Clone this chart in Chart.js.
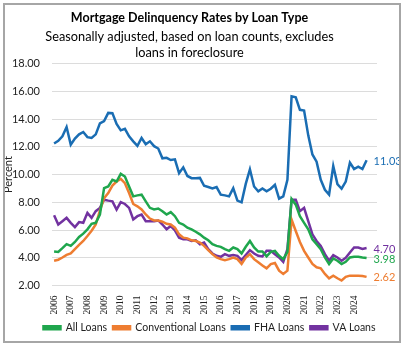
<!DOCTYPE html>
<html>
<head>
<meta charset="utf-8">
<script src="https://cdn.jsdelivr.net/npm/chart.js@4.4.1/dist/chart.umd.min.js"></script>
<style>
  body { margin: 0; background: #fff; }
  #wrap { position: relative; width: 405px; height: 346px; }
  #frame { position: absolute; left: 3px; top: 3px; width: 394px; height: 336px; border: 2px solid #a6a6a6; pointer-events: none; }
</style>
</head>
<body>
<div id="wrap">
  <canvas id="delinqChart" width="405" height="346"></canvas>
  <div id="frame"></div>
</div>
<script>
// quarters 2006Q1 .. 2025Q2 (axis runs a little past the last reported quarter)
const quarters = [];
for (let y = 2006; y <= 2025; y++) {
    for (let q = 1; q <= 4; q++) {
        if (y === 2025 && q > 2) break;
        quarters.push(y + 'Q' + q);
    }
}

// delinquency rates, percent, 2006Q1 .. 2024Q4
const allLoans = [
    4.45, 4.42, 4.69, 4.98, 4.86, 5.14, 5.50, 5.74, 6.05, 6.45, 6.52, 7.12,
    9.02, 9.14, 9.62, 9.50, 10.05, 9.86, 9.14, 8.43, 8.50, 8.55, 8.07, 7.60,
    7.48, 7.55, 7.36, 7.12, 7.29, 7.00, 6.52, 6.40, 6.17, 6.05, 5.88, 5.69,
    5.45, 5.26, 4.98, 4.86, 4.79, 4.62, 4.50, 4.74, 4.62, 4.31, 4.79, 5.21,
    4.74, 4.45, 4.45, 4.10, 4.43, 4.50, 4.14, 3.90, 4.43, 8.24, 7.83, 7.00,
    6.52, 6.05, 5.33, 4.98, 4.62, 4.02, 3.55, 3.95, 3.79, 3.55, 3.71, 4.02,
    4.07, 4.07, 4.02, 3.98
];
const conventionalLoans = [
    3.79, 3.86, 4.02, 4.21, 4.31, 4.62, 4.93, 5.21, 5.57, 5.95, 6.40, 7.40,
    8.30, 8.67, 9.21, 9.50, 9.69, 9.38, 8.67, 7.88, 7.71, 7.48, 7.12, 6.83,
    6.69, 6.69, 6.60, 6.45, 6.40, 6.17, 5.69, 5.45, 5.40, 5.26, 5.21, 5.10,
    4.86, 4.55, 4.26, 4.02, 3.90, 3.83, 3.90, 4.02, 3.90, 3.55, 4.02, 4.26,
    3.90, 3.67, 3.45, 3.24, 3.55, 3.62, 3.07, 2.83, 3.07, 6.76, 5.93, 5.14,
    4.50, 4.02, 3.55, 3.31, 3.24, 2.83, 2.52, 2.71, 2.52, 2.36, 2.62, 2.71,
    2.71, 2.71, 2.69, 2.62
];
const fhaLoans = [
    12.24, 12.43, 12.76, 13.43, 12.16, 12.60, 12.90, 13.07, 12.70, 12.64, 12.90, 13.70,
    13.86, 14.45, 14.43, 13.66, 13.19, 13.30, 12.76, 12.40, 12.07, 12.64, 12.19, 12.40,
    12.05, 11.88, 11.17, 11.21, 11.05, 11.10, 10.10, 10.52, 9.90, 9.74, 9.74, 9.76,
    9.19, 9.10, 9.00, 9.10, 8.55, 8.50, 8.43, 9.02, 8.12, 8.00, 9.33, 10.38,
    9.14, 8.79, 9.00, 8.79, 8.98, 9.26, 8.26, 8.43, 9.62, 15.65, 15.57, 14.67,
    14.62, 12.83, 11.45, 10.93, 9.62, 8.90, 8.55, 10.62, 9.31, 8.98, 9.50, 10.86,
    10.40, 10.57, 10.40, 11.03
];
const vaLoans = [
    7.07, 6.40, 6.64, 6.88, 6.52, 6.21, 6.57, 6.52, 7.24, 6.88, 7.36, 7.60,
    8.19, 8.12, 8.07, 7.48, 8.02, 7.88, 7.60, 6.76, 7.00, 7.12, 6.64, 6.64,
    6.64, 6.69, 6.40, 6.05, 6.29, 5.98, 5.45, 5.33, 5.33, 5.21, 5.26, 4.98,
    5.10, 4.62, 4.31, 4.14, 4.07, 4.26, 4.14, 4.20, 4.14, 3.83, 4.20, 4.55,
    4.31, 4.14, 4.10, 4.50, 4.50, 4.26, 4.02, 3.71, 4.62, 8.19, 8.19, 7.36,
    7.60, 6.64, 5.69, 5.21, 4.86, 4.26, 3.79, 4.19, 4.02, 3.79, 4.00, 4.38,
    4.74, 4.74, 4.64, 4.70
];

const yTicks = [2, 4, 6, 8, 10, 12, 14, 16, 18];

function series(label, data, color) {
    return {
        label: label,
        data: data,
        borderColor: color,
        backgroundColor: color,
        borderWidth: 2.5,
        pointRadius: 0,
        tension: 0
    };
}

// writes the latest value of each line just right of its end point
const endLabels = {
    id: 'endLabels',
    afterLayout(chart) {
        // right padding is only there for these labels, so recentre the legend
        chart.legend.left += 20;
        chart.legend.right += 20;
    },
    afterDatasetsDraw(chart) {
        const ctx = chart.ctx;
        ctx.save();
        ctx.font = '11px Lato';
        ctx.textBaseline = 'middle';
        ctx.textAlign = 'left';
        chart.data.datasets.forEach((ds, i) => {
            const meta = chart.getDatasetMeta(i);
            const last = ds.data.length - 1;
            const pt = meta.data[last];
            ctx.fillStyle = ds.borderColor;
            ctx.fillText(ds.data[last].toFixed(2), pt.x + 7, pt.y + 1);
        });
        ctx.restore();
    }
};

const ctx = document.getElementById('delinqChart').getContext('2d');
const delinqChart = new Chart(ctx, {
    type: 'line',
    data: {
        labels: quarters,
        datasets: [
            series('All Loans', allLoans, '#1fa64d'),
            series('Conventional Loans', conventionalLoans, '#ee7d31'),
            series('FHA Loans', fhaLoans, '#1a6db3'),
            series('VA Loans', vaLoans, '#7232a0')
        ]
    },
    options: {
        responsive: false,
        animation: false,
        layout: { padding: { left: 2, right: 28, top: 4, bottom: 3 } },
        plugins: {
            title: {
                display: true,
                text: 'Mortgage Delinquency Rates by Loan Type',
                color: '#000',
                font: { family: 'Lato', size: 12.5, weight: 'bold' },
                padding: { top: 6, bottom: 3 }
            },
            subtitle: {
                display: true,
                text: ['Seasonally adjusted, based on loan counts, excludes', 'loans in foreclosure'],
                color: '#000',
                font: { family: 'Lato', size: 12.75, lineHeight: 1.32 },
                padding: { top: 0, bottom: 2 }
            },
            legend: {
                position: 'bottom',
                labels: {
                    color: '#222',
                    font: { family: 'Lato', size: 10.5 },
                    boxWidth: 17,
                    boxHeight: 3,
                    padding: 6
                }
            },
            tooltip: { enabled: false }
        },
        scales: {
            x: {
                type: 'category',
                offset: true,
                grid: { display: false },
                border: { display: false },
                ticks: {
                    autoSkip: false,
                    maxRotation: 90,
                    minRotation: 90,
                    padding: 2,
                    color: '#222',
                    font: { family: 'Liberation Serif', size: 9.5 },
                    callback: function (val, idx) {
                        const q = quarters[idx];
                        return q.endsWith('Q1') && q < '2025' ? q.slice(0, 4) : '';
                    }
                }
            },
            y: {
                min: yTicks[0],
                max: yTicks[yTicks.length - 1],
                afterBuildTicks: axis => { axis.ticks = yTicks.map(v => ({ value: v })); },
                afterFit: s => { s.width = 50; },
                grid: { color: '#dcdcdc', lineWidth: 1, drawTicks: false },
                border: { display: false },
                title: {
                    display: true,
                    text: 'Percent',
                    color: '#222',
                    font: { family: 'Lato', size: 11 },
                    padding: { top: 0, bottom: 0 }
                },
                ticks: {
                    color: '#222',
                    font: { family: 'Lato', size: 11 },
                    padding: 12,
                    callback: v => v.toFixed(2)
                }
            }
        }
    },
    plugins: [endLabels]
});
</script>
</body>
</html>
